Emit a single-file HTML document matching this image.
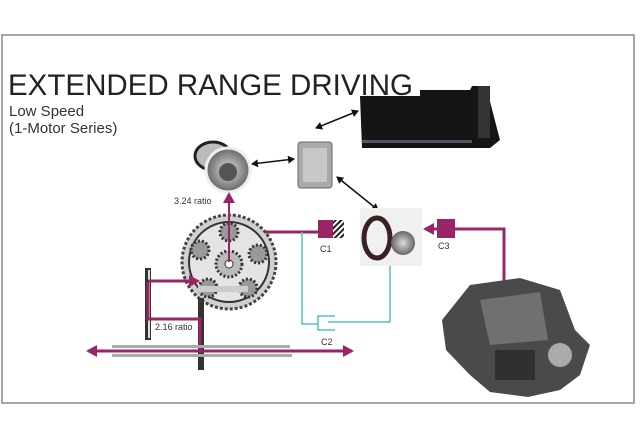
<!DOCTYPE html>
<html><head><meta charset="utf-8"><style>
html,body{margin:0;padding:0;background:#fff;width:640px;height:443px;overflow:hidden}
svg{display:block}
text{font-family:"Liberation Sans",sans-serif}
</style></head><body>
<svg width="640" height="443" viewBox="0 0 640 443">
<defs>
<marker id="ab" markerWidth="8" markerHeight="8" refX="6" refY="4" orient="auto-start-reverse" markerUnits="userSpaceOnUse"><path d="M0,0 L7,4 L0,8 z" fill="#111"/></marker>
<marker id="ap" markerWidth="12" markerHeight="12" refX="9" refY="6" orient="auto-start-reverse" markerUnits="userSpaceOnUse"><path d="M0,0 L11,6 L0,12 z" fill="#9a2566"/></marker>
<pattern id="hat" width="4" height="4" patternUnits="userSpaceOnUse" patternTransform="rotate(45)"><rect width="2" height="4" fill="#222"/></pattern>
<radialGradient id="gr" cx="50%" cy="50%" r="50%"><stop offset="0" stop-color="#ddd"/><stop offset="1" stop-color="#666"/></radialGradient>
</defs>
<rect x="2" y="35" width="632" height="368" fill="#fff" stroke="#888" stroke-width="1.5"/>
<text x="8" y="95" font-size="30" fill="#222" textLength="405" lengthAdjust="spacingAndGlyphs">EXTENDED RANGE DRIVING</text>
<text x="9" y="116" font-size="15" fill="#333">Low Speed</text>
<text x="9" y="133" font-size="15" fill="#333">(1-Motor Series)</text>
<!-- battery -->
<path d="M360,96 L420,96 L420,90 L470,90 L472,86 L486,86 L500,140 L490,148 L362,148 z" fill="#151515"/>
<rect x="478" y="86" width="12" height="52" fill="#333"/>
<rect x="362" y="140" width="110" height="3" fill="#556"/>
<!-- inverter -->
<rect x="298" y="142" width="34" height="46" rx="3" fill="#aaa" stroke="#666"/>
<rect x="303" y="148" width="24" height="34" fill="#c8c8c8"/>
<!-- motor top -->
<ellipse cx="213" cy="156" rx="18" ry="14" fill="#bbb" stroke="#222" stroke-width="3"/>
<circle cx="228" cy="170" r="22" fill="url(#gr)" stroke="#eee" stroke-width="3"/>
<circle cx="228" cy="172" r="9" fill="#555"/>
<text x="174" y="204" font-size="9" fill="#333">3.24 ratio</text>
<!-- black arrows -->
<line x1="252" y1="164" x2="294" y2="159" stroke="#111" stroke-width="1.5" marker-start="url(#ab)" marker-end="url(#ab)"/>
<line x1="316" y1="128" x2="358" y2="111" stroke="#111" stroke-width="1.5" marker-start="url(#ab)" marker-end="url(#ab)"/>
<line x1="337" y1="177" x2="378" y2="210" stroke="#111" stroke-width="1.5" marker-start="url(#ab)" marker-end="url(#ab)"/>
<!-- planetary gear -->
<circle cx="229" cy="262" r="47" fill="#d0d0d0" stroke="#444" stroke-width="3" stroke-dasharray="3 2"/>
<circle cx="229" cy="262" r="40" fill="#e4e4e4" stroke="#333" stroke-width="2"/>
<g fill="#999" stroke="#333" stroke-width="3" stroke-dasharray="2 2">
<circle cx="229" cy="232" r="9"/><circle cx="258" cy="254" r="9"/><circle cx="248" cy="288" r="9"/><circle cx="208" cy="288" r="9"/><circle cx="200" cy="250" r="9"/>
</g>
<circle cx="229" cy="264" r="13" fill="#bbb" stroke="#333" stroke-width="3" stroke-dasharray="2 2"/>
<circle cx="229" cy="264" r="4" fill="#fff" stroke="#333"/>
<line x1="229" y1="262" x2="229" y2="194" stroke="#9a2566" stroke-width="2" marker-end="url(#ap)"/>
<!-- C1 path -->
<line x1="265" y1="232" x2="318" y2="232" stroke="#9a2566" stroke-width="3"/>
<rect x="318" y="220" width="15" height="18" fill="#9a2566"/>
<rect x="333" y="220" width="11" height="18" fill="url(#hat)"/>
<text x="320" y="252" font-size="9" fill="#333">C1</text>
<!-- teal C2 -->
<polyline points="302,232 302,324 318,324" fill="none" stroke="#5bbdc8" stroke-width="1.5"/>
<polyline points="335,316 318,316 318,330 335,330" fill="none" stroke="#5bbdc8" stroke-width="1.5"/>
<polyline points="328,322 390,322 390,265" fill="none" stroke="#5bbdc8" stroke-width="1.5"/>
<text x="321" y="345" font-size="9" fill="#333">C2</text>
<!-- motor B -->
<rect x="360" y="208" width="62" height="58" fill="#f0f0f0"/>
<ellipse cx="377" cy="238" rx="13" ry="20" fill="none" stroke="#3a2020" stroke-width="5"/>
<circle cx="403" cy="243" r="12" fill="url(#gr)"/>
<!-- C3 -->
<polyline points="504,282 504,229 455,229" fill="none" stroke="#9a2566" stroke-width="3"/>
<rect x="437" y="219" width="18" height="19" fill="#9a2566"/>
<line x1="437" y1="229" x2="425" y2="229" stroke="#9a2566" stroke-width="3" marker-end="url(#ap)"/>
<text x="438" y="249" font-size="9" fill="#333">C3</text>
<!-- engine -->
<path d="M470,285 L520,278 L560,290 L575,330 L590,345 L580,375 L560,390 L528,397 L490,392 L470,375 L446,350 L442,320 z" fill="#4a4a4a"/>
<path d="M480,300 L540,292 L548,340 L490,345 z" fill="#707070"/>
<rect x="495" y="350" width="40" height="30" fill="#303030"/>
<circle cx="560" cy="355" r="12" fill="#aaa"/>
<!-- output gears / axle -->
<rect x="145" y="268" width="6" height="72" fill="#333"/>
<rect x="148" y="270" width="2" height="68" fill="#ddd"/>
<rect x="198" y="298" width="6" height="72" fill="#333"/>
<rect x="198" y="286" width="50" height="6" fill="#ccc"/>
<polyline points="148,281 198,281" fill="none" stroke="#9a2566" stroke-width="3" marker-end="url(#ap)"/>
<polyline points="148,282 148,319 200,319 200,352" fill="none" stroke="#9a2566" stroke-width="3"/>
<text x="155" y="330" font-size="9" fill="#333">2.16 ratio</text>
<rect x="112" y="345" width="178" height="3" fill="#aaa"/>
<rect x="112" y="354" width="180" height="3" fill="#aaa"/>
<line x1="88" y1="351" x2="352" y2="351" stroke="#9a2566" stroke-width="3" marker-start="url(#ap)" marker-end="url(#ap)"/>
</svg>
</body></html>
